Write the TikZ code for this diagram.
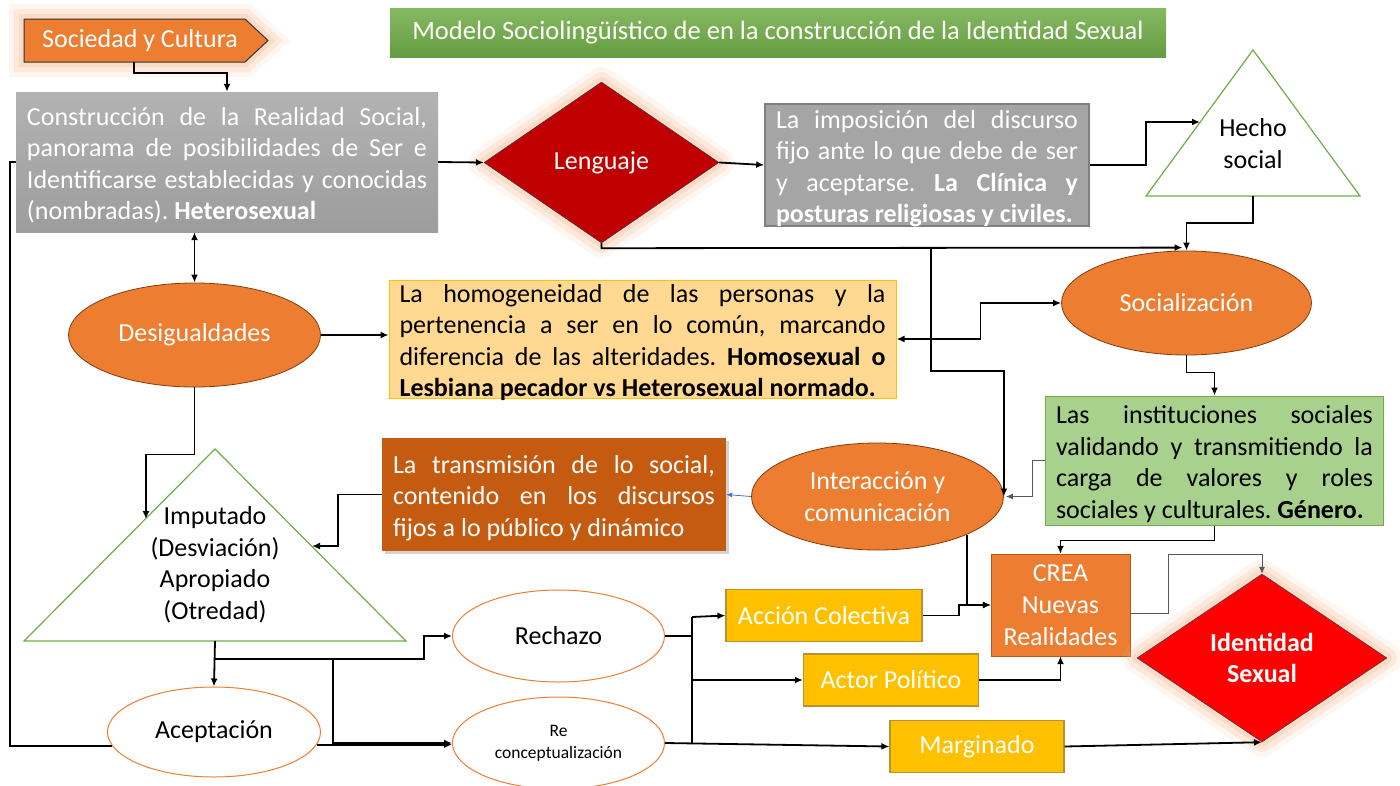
\documentclass[tikz,border=0pt]{standalone}
\usepackage{fontspec}
\setmainfont{Carlito}
\usetikzlibrary{shapes.geometric, arrows.meta, shadows, positioning}

\definecolor{naranja}{HTML}{ED7D31}
\definecolor{bordenaranja}{HTML}{843C0C}
\definecolor{bordecrea}{HTML}{AE5A21}
\definecolor{gris}{HTML}{A5A5A5}
\definecolor{bordegris}{HTML}{7F7F7F}
\definecolor{rojo}{HTML}{C00000}
\definecolor{rojovivo}{HTML}{FF0000}
\definecolor{azuloscuro}{HTML}{1F3864}
\definecolor{verde}{HTML}{70AD47}
\definecolor{verdeclaro}{HTML}{A9D18E}
\definecolor{amarillo}{HTML}{FFD992}
\definecolor{bordeamarillo}{HTML}{FFC000}
\definecolor{oro}{HTML}{FFC000}
\definecolor{bordeoro}{HTML}{B8922A}
\definecolor{cafe}{HTML}{C55A11}
\definecolor{brillo}{HTML}{F4B183}
\definecolor{azul}{HTML}{4472C4}

\newcommand\ajuste{\frenchspacing\tolerance=9999\relax\hbadness=10000\relax}

\tikzset{
    letra/.style={font=\fontsize{26}{31.5}\selectfont},
    brilla/.style={line join=round,
        preaction={draw=brillo, line width=30pt, opacity=0.12},
        preaction={draw=brillo, line width=20pt, opacity=0.18},
        preaction={draw=brillo, line width=10pt, opacity=0.25}},
    elipse/.style={ellipse, draw=bordenaranja, fill=naranja, text=white, letra, inner sep=0pt, line width=0.8pt},
    elipseblanca/.style={ellipse, draw=naranja, fill=white, letra, inner sep=0pt, line width=1pt},
    caja/.style={rectangle, inner sep=0pt, letra, align=justify, execute at begin node=\ajuste,
        execute at end node=\par\vspace{-7pt}},
    resultado/.style={rectangle, draw=bordeoro, fill=oro, text=white, letra, inner sep=0pt, minimum height=52pt, line width=1.2pt},
    triangulo/.style={draw=verde, line width=1.2pt},
    linea/.style={line width=1.8pt},
    flecha/.style={linea, -{Latex[length=8pt, width=7pt]}},
    dobleflecha/.style={linea, {Latex[length=8pt, width=7pt]}-{Latex[length=8pt, width=7pt]}},
    fina/.style={draw=black!65, line width=1pt, -{Latex[length=7pt, width=6pt]}},
}

\begin{document}
\begin{tikzpicture}[x=1pt, y=-1pt]
    \useasboundingbox (0,0) rectangle (1400,785);

    % bloques de arriba
    \draw[draw=black!80, fill=naranja, line width=1pt, brilla] (24,19) -- (245,19) -- (268,40.5) -- (245,62) -- (24,62) -- cycle;
    \coordinate (soc-base) at (134,62);
    \node[text=white, letra, inner sep=0pt] (sociedad) at (140,40.5) {Sociedad y Cultura};
    \node[rectangle, top color=verde!85!white, bottom color=verde!90!black, text=white,
          font=\fontsize{26.5}{30}\selectfont, minimum width=776pt, minimum height=49pt] (titulo) at (778,32.5)
          {Modelo Sociolingüístico de en la construcción de la Identidad Sexual};
    \node[caja, top color=gris!85!white, bottom color=gris!95!black, text=white, minimum width=422pt,
          minimum height=140pt, text width=400pt] (realidad) at (227,162)
          {Construcción de la Realidad Social,\linebreak panorama de posibilidades de Ser e\linebreak Identificarse establecidas y conocidas\linebreak (nombradas). \textbf{Heterosexual}};
    \node[diamond, draw=azuloscuro, fill=rojo, text=white, letra, minimum width=235pt, minimum height=161pt,
          inner sep=0pt, brilla] (lenguaje) at (601.5,162.5) {Lenguaje};
    \node[caja, fill=gris, draw=bordegris, line width=1.5pt, text=white, minimum width=324pt, minimum height=122pt,
          text width=302pt] (imposicion) at (927,165)
          {La imposición del discurso\linebreak fijo ante lo que debe de ser\linebreak y aceptarse. \textbf{La Clínica y}\linebreak \textbf{posturas religiosas y civiles.}};

    % triangulo hecho social
    \draw[triangulo, fill=white] (1253,50) coordinate (hs-cima) -- (1360,196) -- (1146,196) -- cycle;
    \coordinate (hs-base) at (1253,196);
    \coordinate (hs-izq) at (1200,122);
    \node[letra, align=center] (hecho) at (1253,143.5) {Hecho\\social};

    % centro
    \node[elipse, minimum width=250pt, minimum height=104pt] (socializ) at (1186.5,303) {Socialización};
    \node[elipse, minimum width=252pt, minimum height=104pt] (desig) at (194.5,335) {Desigualdades};
    \node[caja, fill=amarillo, draw=bordeamarillo, line width=1pt, minimum width=507pt, minimum height=118pt,
          text width=486pt] (homog) at (642.5,339)
          {La homogeneidad de las personas y la\linebreak pertenencia a ser en lo común, marcando\linebreak diferencia de las alteridades. \textbf{Homosexual o}\linebreak \textbf{Lesbiana pecador vs Heterosexual normado.}};
    \node[caja, fill=cafe, text=white, drop shadow={shadow xshift=3pt, shadow yshift=-3pt, opacity=0.35},
          minimum width=344pt, minimum height=113pt, text width=322pt] (transm) at (554,494.5)
          {La transmisión de lo social,\linebreak contenido en los discursos\linebreak fijos a lo público y dinámico};
    \node[elipse, minimum width=252pt, minimum height=107pt, align=center] (interac) at (877.5,496.5) {Interacción y\\comunicación};
    \node[caja, fill=verdeclaro, draw=verde, line width=1pt, minimum width=338pt, minimum height=129pt,
          text width=317pt] (instit) at (1214.5,460.5)
          {Las instituciones sociales\linebreak validando y transmitiendo la\linebreak carga de valores y roles\linebreak sociales y culturales. \textbf{Género.}};

    % triangulo imputado
    \draw[triangulo] (215,449) -- (406,641) -- (24,641) -- cycle;
    \coordinate (im-base) at (215,641);
    \coordinate (im-izq) at (146,519);
    \coordinate (im-der) at (312,546);
    \node[letra, align=center] (imput) at (215,565) {Imputado\\(Desviación)\\Apropiado\\(Otredad)};

    % abajo
    \node[rectangle, draw=bordecrea, fill=naranja, text=white, font=\fontsize{26}{32}\selectfont, align=center,
          minimum width=139pt, minimum height=102pt, inner sep=0pt] (crea) at (1060.5,605) {CREA\\Nuevas\\Realidades};
    \node[diamond, draw=azuloscuro, fill=rojovivo, text=white, font=\bfseries\fontsize{26}{31.5}\selectfont, align=center,
          minimum width=250pt, minimum height=168pt, inner sep=0pt, brilla] (identidad) at (1262,658) {Identidad\\Sexual};
    \node[elipseblanca, minimum width=212pt, minimum height=92pt] (rechazo) at (558.5,636) {Rechazo};
    \node[elipseblanca, minimum width=212pt, minimum height=92pt, font=\fontsize{17.5}{22}\selectfont,
          align=center] (reconc) at (558.5,743) {Re\\conceptualización};
    \node[elipseblanca, minimum width=213pt, minimum height=90pt] (acept) at (214,732) {Aceptación};
    \node[resultado, minimum width=196pt] (accion) at (824,615.5) {Acción Colectiva};
    \node[resultado, minimum width=175pt] (actor) at (891,680) {Actor Político};
    \node[resultado, minimum width=174pt] (margin) at (977,746.5) {Marginado};

    % conectores
    \draw[flecha] (soc-base) -- ++(0,11) -| (realidad.north);
    \draw[linea] (realidad.west) -- ++(-6,0) |- (acept.188);
    \draw[flecha] (realidad.east) -- (lenguaje.west);
    \draw[flecha] (lenguaje.east) -- (imposicion.west);
    \draw[flecha] (imposicion.east) -- ++(56,0) |- (hs-izq);
    \draw[flecha] (hs-base) -- ++(0,27) -| (socializ.north);
    \draw[flecha] (lenguaje.south) -- ++(0,5) -- ([xshift=-4pt,yshift=3pt]socializ.north);
    \coordinate (cruce) at (931,248);
    \draw[flecha] (cruce) -- ++(0,123) -| (interac.east);
    \draw[dobleflecha] (homog.east) -- ++(84,0) |- (socializ.west);
    \draw[flecha] (socializ.south) -- ++(0,17) -| (instit.north);
    \draw[fina] (instit.west) -- ++(-13,0) |- ([xshift=2pt]interac.east);
    \draw[flecha] (instit.south) -- ++(0,15) -| (crea.north);
    \draw[draw=azul, line width=0.8pt, -{Latex[length=6pt, width=5pt]}] (interac.west) -- (transm.east);
    \draw[flecha] (transm.west) -- ++(-44,0) |- (im-der);
    \draw[flecha] (desig.east) -- (desig.east -| homog.west);
    \draw[dobleflecha] (realidad.south -| desig.north) -- (desig.north);
    \draw[flecha] (desig.south) -- ++(0,67) -| (im-izq);
    \draw[flecha] (im-base) -- (acept.north);
    \draw[flecha] (im-base) ++(0,18) -- ++(209,0) |- (rechazo.west);
    \draw[flecha] (im-base) ++(118,18) |- (reconc.west);
    \draw[flecha] (acept.-7) -- (acept.-7 -| reconc.west);
    \coordinate (rama) at (692,617);
    \draw[linea] (rechazo.east) -- (rechazo.east -| rama);
    \draw[linea] (rama) -- (rama |- reconc.east);
    \draw[flecha] (rama) -- (accion.west);
    \draw[flecha] (rama |- actor.west) -- (actor.west);
    \draw[flecha] (reconc.east) -- (margin.west);
    \draw[flecha] (accion.east) -- ++(36,0) |- (crea.west);
    \draw[flecha] (interac.-23) |- (crea.west);
    \draw[flecha] (actor.east) -| (crea.south);
    \draw[fina] ([yshift=-8pt]crea.east) -- ++(38,0) -- ++(0,-59) -| (identidad.north);
    \draw[flecha] (margin.east) -- (identidad.south);
\end{tikzpicture}
\end{document}
